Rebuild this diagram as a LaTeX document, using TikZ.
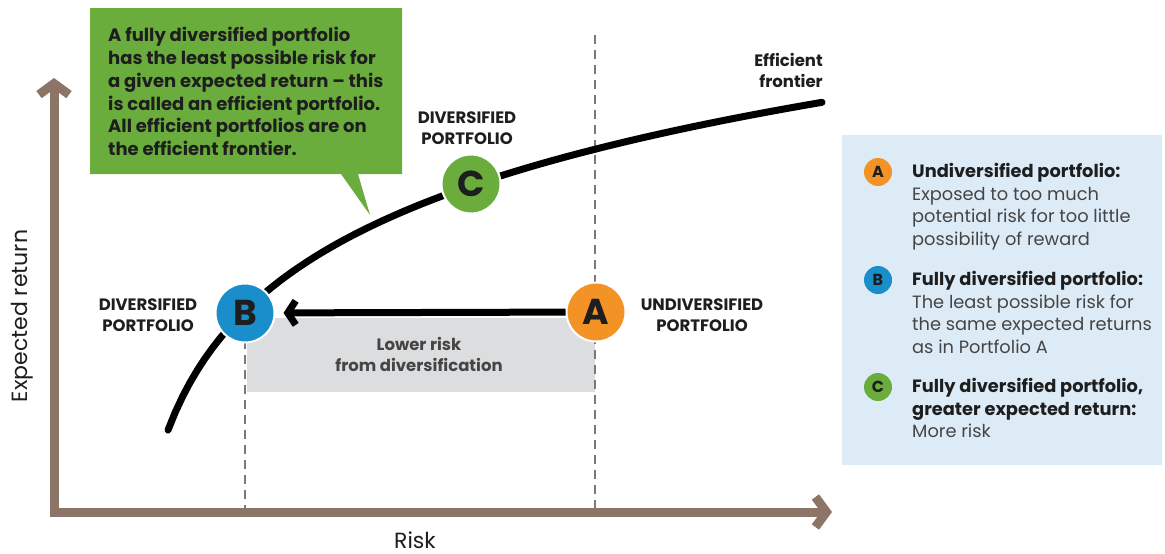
\documentclass[tikz,border=0pt]{standalone}
\usepackage{fontspec}
\setmainfont{Poppins}
\usetikzlibrary{arrows.meta}
\definecolor{axisbrown}{HTML}{8C7466}
\definecolor{callgreen}{HTML}{6AAD3D}
\definecolor{ptblue}{HTML}{1A8DCB}
\definecolor{ptorange}{HTML}{F39325}
\definecolor{ptgreen}{HTML}{6AAD3D}
\definecolor{boxgray}{HTML}{DCDDDE}
\definecolor{panelblue}{HTML}{DDEBF6}
\definecolor{dashgray}{HTML}{7E7670}
\definecolor{txtdark}{HTML}{1E1E1E}
\definecolor{txtgray}{HTML}{454545}
\begin{document}
\begin{tikzpicture}[x=1pt,y=-1pt,
  axisline/.style={draw=axisbrown, line width=9pt, -{Straight Barb[length=11pt,width=30pt,line width=9pt]}},
  dashline/.style={draw=dashgray, line width=1.8pt, dash pattern=on 9pt off 6pt},
  frontier/.style={draw=black, line width=7pt, line cap=round},
  bigpt/.style={circle, draw=white, line width=2pt, minimum size=59pt, inner sep=0pt, font=\fontsize{36}{36}\selectfont\bfseries, text=txtdark},
  smallpt/.style={circle, minimum size=28pt, inner sep=0pt, font=\fontsize{16}{16}\selectfont\bfseries, text=txtdark},
  mainarrow/.style={draw=black, line width=7pt, -{Straight Barb[length=8pt,width=24pt,line width=7pt]}, shorten >=8pt},
  caplabel/.style={align=center, font=\fontsize{16.5}{21}\selectfont\bfseries, text=txtdark, inner sep=0pt},
  legtext/.style={align=left, anchor=north west, inner sep=0pt, font=\fontsize{17.8}{22.7}\selectfont, text=txtgray},
  axislabel/.style={font=\fontsize{22}{22}\selectfont, text=txtdark, inner sep=0pt},
]
\useasboundingbox (0,0) rectangle (1165,554);
% legend panel and gray box
\fill[panelblue] (842,135) rectangle (1162,465);
\fill[boxgray] (247,318) rectangle (595,392);
% dashed lines
\draw[dashline] (245,340) -- (245,512);
\draw[dashline] (595,35) -- (595,512);
% axes
\coordinate (ytip) at (54,78);
\coordinate (xtip) at (832,512);
\draw[axisline] (54,517) -- (ytip);
\draw[axisline] (49.5,512) -- (xtip);
% efficient frontier
\draw[frontier] plot[domain=168:822, samples=90] (\x, {885-119.5*ln(\x-123)});
% callout
\fill[callgreen] (90,8) -- (402,8) -- (402,174) -- (358,174) -- (370,215) -- (341,174) -- (90,174) -- cycle;
\node[legtext, text=txtdark, font=\fontsize{18}{22.8}\selectfont\bfseries] (calltext) at (108,27)
 {A fully diversified portfolio\\has the least possible risk for\\a given expected return – this\\is called an efficient portfolio.\\All efficient portfolios are on\\the efficient frontier.};
% points
\node[bigpt, fill=ptblue] (B) at (245,313) {B};
\node[bigpt, fill=ptorange] (A) at (596,312) {A};
\node[bigpt, fill=ptgreen] (C) at (471,184) {C};
\draw[mainarrow] (A) -- (B);
% labels
\node[caplabel] (labB) at (148,315) {DIVERSIFIED\\PORTFOLIO};
\node[caplabel] (labA) at (702,315) {UNDIVERSIFIED\\PORTFOLIO};
\node[caplabel] (labC) at (467,128) {DIVERSIFIED\\PORTFOLIO};
\node[caplabel, align=right, anchor=east] (labF) at (823,70) {Efficient\\frontier};
\node[caplabel, text=txtgray] (labL) at (419,354) {Lower risk\\from diversification};
\node[axislabel, anchor=base] (xlab) at (415,548) {Risk};
\node[axislabel, rotate=90] (ylab) at (22,316) {Expected return};
% legend
\node[smallpt, fill=ptorange] (LA) at (878,172) {A};
\node[smallpt, fill=ptblue] (LB) at (878,280) {B};
\node[smallpt, fill=ptgreen] (LC) at (878,387) {C};
\node[legtext] (TA) at (912,163) {\textcolor{txtdark}{\bfseries Undiversified portfolio:}\\Exposed to too much\\potential risk for too little\\possibility of reward};
\node[legtext] (TB) at (912,271) {\textcolor{txtdark}{\bfseries Fully diversified portfolio:}\\The least possible risk for\\the same expected returns\\as in Portfolio A};
\node[legtext] (TC) at (912,378) {\textcolor{txtdark}{\bfseries Fully diversified portfolio,}\\\textcolor{txtdark}{\bfseries greater expected return:}\\More risk};
\end{tikzpicture}
\end{document}
